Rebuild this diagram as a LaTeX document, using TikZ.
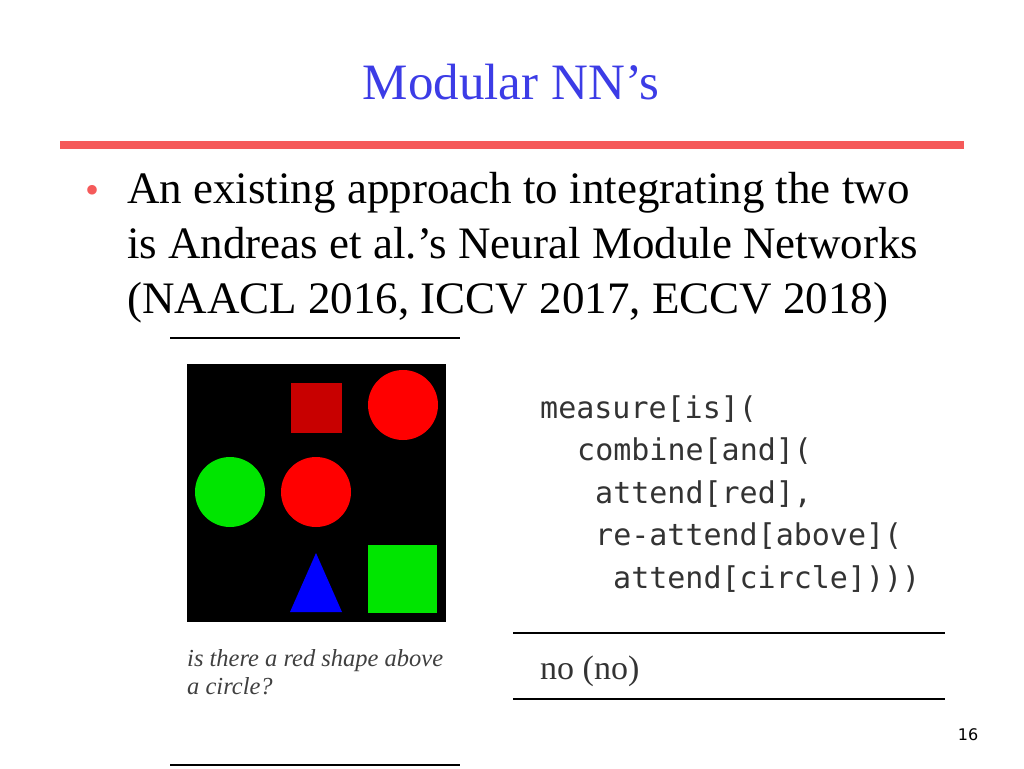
\documentclass[tikz,border=0pt]{standalone}
\usepackage{fontspec}
\setmainfont{Liberation Serif}
\setsansfont{DejaVu Sans}
\setmonofont{DejaVu Sans Mono}
\definecolor{titleblue}{RGB}{60,60,230}
\definecolor{rulered}{RGB}{245,90,90}
\definecolor{darkred}{RGB}{200,0,0}
\tikzset{
  every picture/.style={x=1pt, y=-1pt},
  bodytext/.style={anchor=base west, inner sep=0pt, font={\fontsize{45}{50}\selectfont}},
  codeline/.style={anchor=base west, inner sep=0pt, font={\ttfamily\fontsize{30}{34}\selectfont}, text=black!80},
  capline/.style={anchor=base west, inner sep=0pt, font={\itshape\fontsize{24.5}{28}\selectfont}, text=black!75},
  thinrule/.style={line width=1.2pt}}

\begin{document}
\begin{tikzpicture}
    \useasboundingbox (0,0) rectangle (1024,768);

    % title and rule
    \node[font={\fontsize{51}{56}\selectfont}, text=titleblue, anchor=base] (title) at (511,99) {Modular NN’s};
    \draw[rulered, line width=8pt] (60,145) -- (964,145);

    % bullet
    \node[text=rulered, anchor=base, inner sep=0pt, font={\fontsize{40}{40}\selectfont}] (dot) at (93,203) {•};
    \node[bodytext] (l1) at (127,203) {An existing approach to integrating the two};
    \node[bodytext] (l2) at (127,258) {is Andreas et al.’s Neural Module Networks};
    \node[bodytext] (l3) at (127,313) {(NAACL 2016, ICCV 2017, ECCV 2018)};

    % image
    \draw[thinrule] (170,338) -- (460,338);
    \fill[black] (187,364) rectangle (446,622);
    \fill[darkred] (291,383) rectangle (342,433);
    \fill[red] (403,405) circle (35);
    \fill[green!90!black] (230,492) circle (35);
    \fill[red] (316,492) circle (35);
    \fill[blue] (290,612) -- (316,553) -- (342,612) -- cycle;
    \fill[green!90!black] (368,545) rectangle (437,613);

    \node[capline] (c1) at (187,666) {is there a red shape above};
    \node[capline] (c2) at (187,694) {a circle?};
    \draw[thinrule] (170,765) -- (460,765);

    % program
    \node[codeline] (p1) at (540,418) {measure[is](};
    \node[codeline] (p2) at (577,460) {combine[and](};
    \node[codeline] (p3) at (595,503) {attend[red],};
    \node[codeline] (p4) at (595,545) {re-attend[above](};
    \node[codeline] (p5) at (613,588) {attend[circle])))};

    \draw[thinrule] (513,633) -- (945,633);
    \node[anchor=base west, inner sep=0pt, font={\fontsize{34}{38}\selectfont}, text=black!80] (ans) at (540,679) {no (no)};
    \draw[thinrule] (513,699) -- (945,699);

    \node[anchor=base, font={\sffamily\fontsize{16}{18}\selectfont}] (pg) at (968,740) {16};
\end{tikzpicture}
\end{document}
